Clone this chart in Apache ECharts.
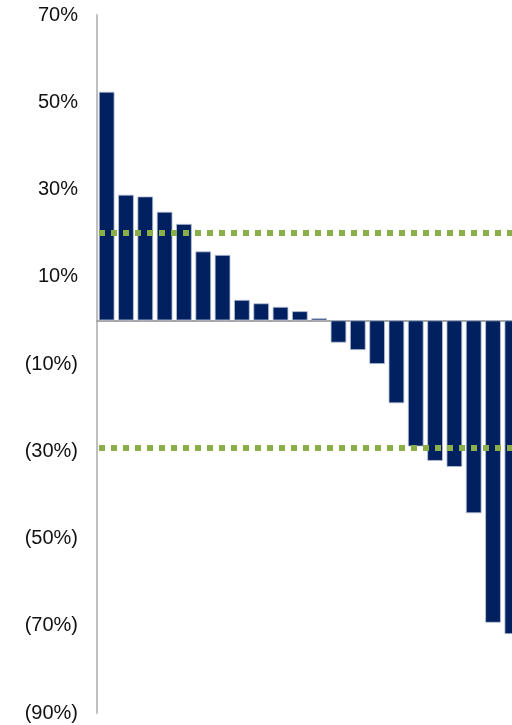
<!DOCTYPE html>
<html>
<head>
<meta charset="utf-8">
<script src="https://cdn.jsdelivr.net/npm/echarts@6/dist/echarts.min.js"></script>
<style>
  html, body { margin: 0; padding: 0; background: #fff; }
  #chart { width: 512px; height: 725px; }
</style>
</head>
<body>
<div id="chart"></div>
<script>
// Ranked returns, one bar per holding
const categories = ['1','2','3','4','5','6','7','8','9','10','11','12','13','14','15','16','17','18','19','20','21','22'];
const returns = [52.4, 28.8, 28.4, 24.9, 22.1, 15.8, 15.0, 4.7, 3.9, 3.1, 2.1, 0.5,
                 -5.1, -6.8, -10.0, -19.0, -28.9, -32.2, -33.6, -44.2, -69.3, -71.9];
// Reference levels (dotted green lines)
const upperLevel = 20.2;
const lowerLevel = -29.2;
// Value axis range
const axisMin = -90;
const axisMax = 70;

function pctLabel(v) {
  if (Math.abs(v) % 20 !== 10) return '';
  return v < 0 ? '(' + Math.abs(v) + '%)' : v + '%';
}

const chart = echarts.init(document.getElementById('chart'));
chart.setOption({
  animation: false,
  backgroundColor: '#ffffff',
  // plot area runs past the right edge of the canvas, so the last bar is clipped
  grid: { left: 97, width: 425, top: 15, bottom: 12, containLabel: false, outerBoundsMode: 'none' },
  xAxis: {
    type: 'category',
    data: categories,
    axisLine: { show: true, onZero: true, lineStyle: { color: '#A6A6A6', width: 2 } },
    axisTick: { show: false },
    axisLabel: { show: false },
    splitLine: { show: false }
  },
  yAxis: {
    type: 'value',
    min: axisMin,
    max: axisMax,
    interval: 10,
    axisLine: { show: true, lineStyle: { color: '#BFBFBF', width: 2 } },
    axisTick: { show: false },
    splitLine: { show: false },
    axisLabel: {
      formatter: pctLabel,
      color: '#111111',
      fontFamily: 'Liberation Sans, Arial, sans-serif',
      fontSize: 20,
      margin: 19
    }
  },
  series: [{
    type: 'bar',
    data: returns,
    barCategoryGap: '19%',
    itemStyle: { color: '#002060', borderColor: '#B8C2D6', borderWidth: 0.8 },
    markLine: {
      silent: true,
      symbol: 'none',
      label: { show: false },
      lineStyle: { color: '#8BAF48', width: 6, type: [6, 6], dashOffset: -2 },
      data: [{ yAxis: upperLevel }, { yAxis: lowerLevel }]
    }
  }]
});
</script>
</body>
</html>
